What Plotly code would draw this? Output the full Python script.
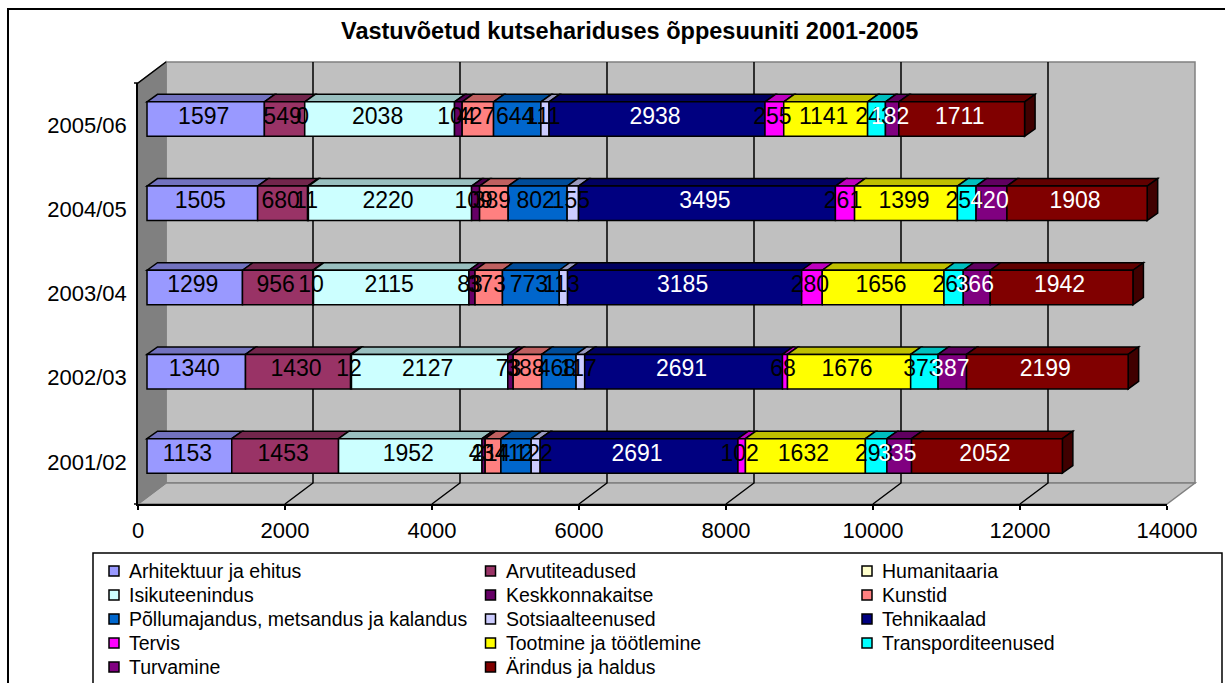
import plotly.graph_objects as go

YEARS = ["2001/02", "2002/03", "2003/04", "2004/05", "2005/06"]
TICKS = [0, 2000, 4000, 6000, 8000, 10000, 12000, 14000]

ARHITEKTUUR = [1153, 1340, 1299, 1505, 1597]
ARVUTI = [1453, 1430, 956, 680, 549]
HUMANITAARIA = [None, 12, 10, 11, 0]
ISIKUTEENINDUS = [1952, 2127, 2115, 2220, 2038]
KESKKOND = [43, 73, 83, 109, 104]
KUNSTID = [214, 388, 373, 389, 427]
POLLUMAJANDUS = [412, 468, 773, 802, 644]
SOTSIAAL = [122, 117, 113, 155, 111]
TEHNIKA = [2691, 2691, 3185, 3495, 2938]
TERVIS = [102, 68, 280, 261, 255]
TOOTMINE = [1632, 1676, 1656, 1399, 1141]
TRANSPORT = [293, 373, 263, 254, 243]
TURVAMINE = [335, 387, 366, 420, 182]
ARINDUS = [2052, 2199, 1942, 1908, 1711]

SERIES = [
    ("Arhitektuur ja ehitus", ARHITEKTUUR, (0x99, 0x99, 0xFF), "black"),
    ("Arvutiteadused", ARVUTI, (0x99, 0x33, 0x66), "black"),
    ("Humanitaaria", HUMANITAARIA, (0xFF, 0xFF, 0xCC), "black"),
    ("Isikuteenindus", ISIKUTEENINDUS, (0xCC, 0xFF, 0xFF), "black"),
    ("Keskkonnakaitse", KESKKOND, (0x66, 0x00, 0x66), "black"),
    ("Kunstid", KUNSTID, (0xFF, 0x80, 0x80), "black"),
    ("Põllumajandus, metsandus ja kalandus", POLLUMAJANDUS, (0x00, 0x66, 0xCC), "black"),
    ("Sotsiaalteenused", SOTSIAAL, (0xCC, 0xCC, 0xFF), "black"),
    ("Tehnikaalad", TEHNIKA, (0x00, 0x00, 0x80), "white"),
    ("Tervis", TERVIS, (0xFF, 0x00, 0xFF), "black"),
    ("Tootmine ja töötlemine", TOOTMINE, (0xFF, 0xFF, 0x00), "black"),
    ("Transporditeenused", TRANSPORT, (0x00, 0xFF, 0xFF), "black"),
    ("Turvamine", TURVAMINE, (0x80, 0x00, 0x80), "white"),
    ("Ärindus ja haldus", ARINDUS, (0x80, 0x00, 0x00), "white"),
]

W, H = 1225, 683
FX0, FX1, FY0, FY1 = 138, 1167, 504, 83      # front plane, px
BACK_DX, BACK_DY = 28, 21                    # depth of the walls, px
PX_X = (FX1 - FX0) / TICKS[-1]
PX_Y = (FY0 - FY1) / len(YEARS)
BAR_PX_DX, BAR_PX_DY = 9, 6                  # bar front face shift, px
DEPTH_X, DEPTH_Y = 10.5, 7.5                 # bar depth, px
BAR_H = 34.5 / PX_Y
LEG_X = [114, 490.5, 867]                    # legend columns, px
LEG_Y0, LEG_DY = 571, 24                     # legend rows, px

def hexa(rgb, k=1.0):
    return "#%02X%02X%02X" % tuple(int(c * k) for c in rgb)

def pth(pts, close=True):
    s = "M " + " L ".join(f"{x/W:.5f},{1-y/H:.5f}" for x, y in pts)
    return s + (" Z" if close else "")

def paper(pts, fill=None, line="#808080", lw=1.5, close=True):
    return dict(type="path", xref="paper", yref="paper", path=pth(pts, close), layer="below",
                fillcolor=fill if fill else "rgba(0,0,0,0)",
                line=dict(color=line, width=lw))

shapes = [
    # outer frame, legend frame
    paper([(8, 690), (8, 9), (1230, 9)], line="black", lw=2, close=False),
    paper([(93, 690), (93, 553), (1222, 553), (1222, 690)], line="black", lw=1.5, close=False),
    # walls and floor
    paper([(FX0 + BACK_DX, FY1 - BACK_DY), (FX1 + BACK_DX, FY1 - BACK_DY),
           (FX1 + BACK_DX, FY0 - BACK_DY), (FX0 + BACK_DX, FY0 - BACK_DY)], fill="#C0C0C0"),
    paper([(FX0, FY0), (FX0 + BACK_DX, FY0 - BACK_DY), (FX1 + BACK_DX, FY0 - BACK_DY), (FX1, FY0)], fill="#C0C0C0"),
    paper([(FX0, FY1), (FX0 + BACK_DX, FY1 - BACK_DY), (FX0 + BACK_DX, FY0 - BACK_DY), (FX0, FY0)], fill="#808080"),
    paper([(FX0 - 4, FY1), (FX0, FY1), (FX0 + BACK_DX, FY1 - BACK_DY)], line="black", close=False),
    paper([(FX0 - 4, FY0), (FX0, FY0)], line="black", close=False),
]
for t in TICKS[1:-1]:
    xp = FX0 + t * PX_X
    shapes.append(paper([(xp, FY0), (xp + BACK_DX, FY0 - BACK_DY), (xp + BACK_DX, FY1 - BACK_DY)],
                        line="black", close=False))

ux = DEPTH_X / PX_X
uy = DEPTH_Y / PX_Y
shift_x = BAR_PX_DX / PX_X
shift_y = BAR_PX_DY / PX_Y

annotations = [dict(text="<b>Vastuvõetud kutsehariduses õppesuuniti 2001-2005</b>",
                    xref="paper", yref="paper", x=629 / W, y=1 - 31 / H,
                    xanchor="center", yanchor="middle", showarrow=False,
                    font=dict(size=23.5, family="Liberation Sans"))]

traces, texts = [], []
cum = [shift_x] * len(YEARS)
for k, (name, vals, rgb, tcol) in enumerate(SERIES):
    base = list(cum)
    v = [0 if a is None else a for a in vals]
    traces.append(go.Bar(
        name=name, orientation="h", y=list(range(len(YEARS))), x=vals, base=base,
        width=BAR_H, offset=shift_y - BAR_H / 2, showlegend=False,
        marker=dict(color=hexa(rgb), line=dict(color="black", width=1.5)),
    ))
    tx, ty, tt = [], [], []
    for i, a in enumerate(vals):
        if a is None:
            continue
        tx.append(base[i] + a / 2 - 2 / PX_X)
        ty.append(i + (BAR_PX_DY + 1) / PX_Y)
        tt.append(str(a))
    texts.append(go.Scatter(x=tx, y=ty, text=tt, mode="text", textposition="middle center",
                            textfont=dict(color=tcol, size=23, family="Liberation Sans"),
                            showlegend=False, hoverinfo="skip", cliponaxis=False))
    for i, a in enumerate(v):
        if a <= 0:
            continue
        x0, x1 = base[i], base[i] + a
        y1 = i + shift_y + BAR_H / 2
        shapes.append(dict(
            type="path", xref="x", yref="y", layer="below",
            path=f"M {x0},{y1} L {x0+ux},{y1+uy} L {x1+ux},{y1+uy} L {x1},{y1} Z",
            fillcolor=hexa(rgb, 0.75), line=dict(color="black", width=1.5)))
    cum = [c + a for c, a in zip(cum, v)]
    # legend entry
    lx = LEG_X[k % 3]
    ly = LEG_Y0 + (k // 3) * LEG_DY
    shapes.append(paper([(lx - 5, ly - 5), (lx + 5, ly - 5), (lx + 5, ly + 5), (lx - 5, ly + 5)],
                        fill=hexa(rgb), line="black", lw=1.5))
    annotations.append(dict(text=name, xref="paper", yref="paper", x=(lx + 13) / W, y=1 - ly / H,
                            xanchor="left", yanchor="middle", showarrow=False,
                            font=dict(size=19.5, family="Liberation Sans")))

# right side of the last series
_, _, rgb, _ = SERIES[-1]
for i, c in enumerate(cum):
    y1 = i + shift_y + BAR_H / 2
    y0 = i + shift_y - BAR_H / 2
    shapes.append(dict(
        type="path", xref="x", yref="y", layer="below",
        path=f"M {c},{y1} L {c+ux},{y1+uy} L {c+ux},{y0+uy} L {c},{y0} Z",
        fillcolor=hexa(rgb, 0.5), line=dict(color="black", width=1.5)))

fig = go.Figure(traces + texts)
fig.update_layout(
    width=W, height=H, autosize=False, margin=dict(l=0, r=0, t=0, b=0, autoexpand=False),
    paper_bgcolor="white", plot_bgcolor="rgba(0,0,0,0)",
    barmode="overlay", shapes=shapes, annotations=annotations, showlegend=False,
    font=dict(family="Liberation Sans", color="black", size=22),
    xaxis=dict(domain=[FX0 / W, FX1 / W], range=[0, TICKS[-1]], tickvals=TICKS, tickformat="d",
               showgrid=False, zeroline=False, showline=True, linecolor="black", linewidth=1.5,
               ticks="outside", ticklen=4, tickcolor="black", tickwidth=1.5,
               tickfont=dict(size=22), ticklabelstandoff=2),
    yaxis=dict(domain=[1 - FY0 / H, 1 - FY1 / H], range=[-0.5, len(YEARS) - 0.5],
               tickvals=list(range(len(YEARS))), ticktext=YEARS,
               showgrid=False, zeroline=False, showline=True, linecolor="black", linewidth=1.5,
               ticks="", tickfont=dict(size=22), ticklabelstandoff=5),
)
fig.write_html("out.html", config={"displayModeBar": False},
               post_script="document.body.style.margin='0';")
